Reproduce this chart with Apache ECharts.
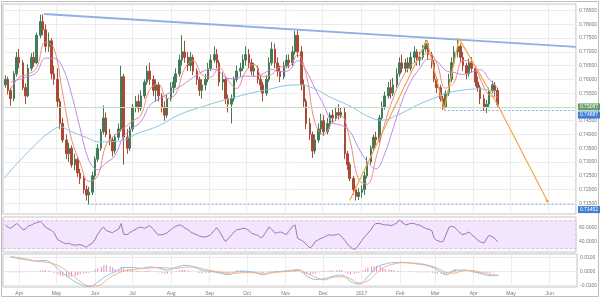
<!DOCTYPE html>
<html><head><meta charset="utf-8">
<script src="https://cdn.jsdelivr.net/npm/echarts@6/dist/echarts.min.js"></script>
<style>html,body{margin:0;padding:0;background:#fff}#c{width:600px;height:299px}</style>
</head><body><div id="c"></div>
<script>
// ---------- DATA ----------
const firstCandle = '2016-03-21';           // candles every Mon / Wed / Fri
const axisStart = '2016-03-19';
const axisEnd = '2017-06-23';
// [open, close, low, high] in 1e-4 units
const candles = [
[7580,7600,7570,7615],[7600,7560,7545,7610],[7560,7530,7505,7570],
[7530,7620,7520,7630],[7620,7680,7610,7700],[7680,7660,7640,7710],
[7660,7570,7560,7670],[7570,7540,7510,7585],[7540,7640,7535,7655],
[7640,7680,7630,7695],[7680,7660,7645,7700],[7660,7760,7655,7770],
[7760,7810,7750,7835],[7810,7780,7760,7836],[7780,7720,7700,7800],
[7720,7740,7700,7770],[7740,7620,7600,7750],[7620,7600,7580,7650],
[7600,7520,7500,7640],[7520,7440,7420,7530],[7440,7380,7370,7460],
[7380,7330,7310,7400],[7330,7350,7300,7370],[7350,7290,7280,7360],
[7290,7310,7270,7330],[7310,7260,7245,7320],[7260,7240,7220,7275],
[7240,7200,7185,7250],[7200,7180,7160,7215],[7180,7190,7145,7210],
[7190,7250,7180,7265],[7250,7310,7240,7320],[7310,7350,7300,7365],
[7350,7410,7340,7420],[7410,7460,7400,7505],[7460,7400,7390,7480],
[7400,7380,7360,7420],[7380,7340,7320,7390],[7340,7390,7330,7400],
[7390,7420,7380,7440],[7420,7610,7410,7650],[7610,7390,7290,7620],
[7390,7350,7330,7420],[7350,7420,7340,7430],[7420,7500,7410,7510],
[7500,7520,7480,7540],[7520,7495,7480,7545],[7495,7540,7485,7560],
[7540,7590,7530,7600],[7590,7630,7580,7650],[7630,7600,7580,7660],
[7600,7560,7540,7615],[7560,7580,7520,7600],[7580,7540,7520,7590],
[7540,7500,7480,7550],[7500,7470,7450,7520],[7470,7530,7460,7545],
[7530,7570,7520,7590],[7570,7590,7550,7610],[7590,7620,7570,7640],
[7620,7670,7610,7690],[7670,7700,7650,7760],[7700,7680,7660,7740],
[7680,7650,7630,7700],[7650,7680,7630,7700],[7680,7630,7615,7690],
[7630,7600,7580,7640],[7600,7560,7540,7610],[7560,7580,7530,7600],
[7580,7600,7560,7620],[7600,7640,7590,7660],[7640,7670,7630,7690],
[7670,7690,7660,7720],[7690,7660,7640,7710],[7660,7590,7575,7670],
[7590,7600,7560,7625],[7600,7530,7510,7610],[7530,7510,7480,7545],
[7510,7530,7440,7545],[7530,7600,7520,7610],[7600,7630,7590,7650],
[7630,7640,7610,7660],[7640,7670,7630,7690],[7670,7690,7650,7720],
[7690,7660,7640,7710],[7660,7630,7615,7675],[7630,7640,7610,7660],
[7640,7600,7585,7650],[7600,7580,7560,7615],[7580,7550,7520,7590],
[7550,7600,7540,7615],[7600,7660,7590,7680],[7660,7710,7650,7735],
[7710,7660,7640,7730],[7660,7630,7610,7680],[7630,7610,7590,7650],
[7610,7650,7600,7665],[7650,7670,7640,7690],[7670,7660,7640,7690],
[7660,7700,7650,7720],[7700,7760,7690,7775],[7760,7700,7680,7778],
[7700,7580,7560,7720],[7580,7520,7500,7600],[7520,7440,7420,7530],
[7440,7400,7380,7460],[7400,7340,7315,7410],[7340,7380,7330,7400],
[7380,7420,7370,7440],[7420,7450,7400,7475],[7450,7410,7395,7470],
[7410,7440,7400,7460],[7440,7470,7420,7480],[7470,7460,7440,7490],
[7460,7480,7450,7500],[7480,7470,7455,7510],[7470,7480,7460,7500],
[7480,7330,7310,7500],[7330,7290,7270,7340],[7290,7240,7230,7300],
[7240,7200,7180,7250],[7200,7175,7160,7210],[7175,7190,7162,7205],
[7190,7200,7170,7215],[7200,7250,7180,7265],[7250,7300,7240,7320],
[7300,7350,7290,7360],[7350,7390,7340,7400],[7390,7380,7360,7410],
[7380,7460,7370,7470],[7460,7500,7450,7520],[7500,7540,7490,7555],
[7540,7570,7530,7590],[7570,7550,7530,7600],[7550,7580,7540,7605],
[7580,7620,7570,7640],[7620,7660,7610,7680],[7660,7640,7625,7690],
[7640,7660,7625,7675],[7660,7640,7625,7680],[7640,7680,7630,7700],
[7680,7700,7660,7720],[7700,7670,7650,7710],[7670,7680,7650,7700],
[7680,7710,7670,7725],[7710,7730,7700,7742],[7730,7690,7670,7740],
[7690,7660,7640,7700],[7660,7600,7590,7670],[7600,7570,7550,7610],
[7570,7530,7520,7580],[7530,7500,7490,7540],[7500,7550,7495,7560],
[7550,7600,7540,7620],[7600,7660,7590,7680],[7660,7700,7650,7720],
[7700,7720,7680,7748],[7720,7680,7660,7730],[7680,7650,7630,7700],
[7650,7620,7600,7660],[7620,7660,7610,7675],[7660,7640,7625,7680],
[7640,7590,7575,7650],[7590,7570,7555,7610],[7570,7530,7510,7580],
[7530,7500,7485,7545],[7500,7510,7478,7525],[7510,7560,7500,7570],
[7560,7580,7550,7595],[7580,7560,7540,7590],[7560,7508,7500,7570]
];
// weekly moving averages (value at each Friday candle), 1e-4 units
const maFast = [7563,7608,7618,7642,7735,7712,7550,7385,7297,7230,7247,7363,7397,7422,7448,7470,7563,7583,7530,7547,7638,7668,7617,7608,7642,7597,7567,7627,7655,7610,7617,7645,7647,7690,7617,7443,7400,7442,7467,7382,7238,7219,7312,7437,7533,7603,7650,7672,7697,7660,7568,7590,7668,7662,7602,7543,7536];
const maMid = [7590,7600,7610,7625,7677,7677,7643,7548,7423,7308,7272,7297,7322,7392,7422,7446,7505,7527,7546,7565,7584,7607,7627,7638,7629,7603,7605,7612,7611,7619,7636,7628,7632,7668,7632,7567,7508,7443,7434,7412,7352,7301,7275,7328,7423,7520,7592,7638,7673,7666,7633,7625,7618,7626,7635,7602,7569];
const maSlowDates = ['2016-03-20','2016-04-02','2016-04-18','2016-04-26','2016-05-04','2016-05-12','2016-05-24','2016-06-05','2016-06-20','2016-07-06','2016-07-22','2016-08-07','2016-08-23','2016-09-19','2016-10-16','2016-11-11','2016-11-23','2016-12-07','2016-12-23','2017-01-08','2017-01-18','2017-01-30','2017-02-25','2017-03-24','2017-04-07','2017-04-20'];
const maSlow = [7242,7307,7380,7409,7427,7412,7391,7373,7376,7405,7431,7470,7496,7532,7561,7580,7569,7536,7503,7463,7452,7470,7525,7561,7565,7550];
// RSI per candle
const rsi = [64,61,59,63,66,63,57,58,62,64,66,67,69,66,61,58,56,53,43,41,39,37,38,36,35,35.5,36,34,32,35,38,43,50,58,61,56,54,53,55,58,66,51,50,53,55,58,60,61,59,61,63,58,53,50,50,51,53,57,60,62,64,63,60,57,54,52,50,48,47,47,48,50,56,60,55,46,40,44,50,54,57,58,59,59,56,52,51,49,46,47,55,61,58,52,53,54,52,50,55,62,64,45,42,40,36,31,34,40,43,45,46,49,50,49,50,51,48,42,37,33,29,30,35,42,47,51,57,63,66,66,65,64,64,63,64,67,71,68,64,65,66,66,64,64,61,59,58,56,45,42,40,40,48,61,62,61,56,52,50,52,54,50,46,42,40,38,44,49,47,44,40];
// MACD weekly (1e-4 units)
const macdLine = [105,93,84,76,80,45,-10,-55,-90,-107,-75,-30,0,30,30,24,34,25,12,30,46,34,10,2,-10,-22,0,2,-5,-22,-4,2,8,15,-30,-55,-50,-32,-24,-68,-88,-36,30,55,65,66,60,52,40,12,-22,10,12,2,-15,-28,-26];
const signalLine = [110,98,88,75,68,55,25,-20,-70,-100,-100,-60,-20,5,15,22,26,30,27,25,32,34,22,8,-2,-10,-10,-6,-8,-11,-8,-2,3,10,-10,-40,-58,-40,-36,-50,-80,-65,-10,35,55,64,62,58,45,25,-5,-10,8,8,-5,-18,-26];
// MACD histogram per candle (1e-4 units)
const macdHist = [-3,-5,-6,-6,-4,-5,-4,-3,-4,0,1,2,6,10,12,8,-2,-10,-18,-28,-35,-36,-38,-35,-30,-25,-20,-15,-10,-7,5,15,25,35,45,48,40,30,20,20,30,25,18,15,15,8,5,3,5,8,8,3,-2,-5,-10,-14,-15,-8,0,5,10,14,14,8,2,0,-6,-10,-12,-10,-8,-6,-4,-6,-8,-10,-12,-12,-6,5,10,10,10,8,4,2,3,-3,-8,-11,-5,4,4,6,5,4,3,5,5,5,8,5,-10,-20,-20,-18,-15,-15,-5,5,8,8,8,8,10,12,12,-5,-15,-18,-15,-10,-8,5,20,29,35,40,40,38,30,20,15,12,10,6,4,2,0,-2,-2,-4,-5,-6,-6,-5,-5,-8,-12,-13,-15,-17,-17,-5,10,20,12,6,4,-2,-4,-6,-8,-10,-10,-10,-8,-10,-5,-3,0];
// annotations
const trendDates = ['2016-04-21', axisEnd];
const trendValues = [0.7837, 0.7718];
const zigDates = ['2016-12-23','2017-02-23','2017-03-09','2017-03-21','2017-04-21','2017-05-31'];
const zigValues = [0.7160,0.7743,0.7490,0.7748,0.7508,0.7158];
const lastPrice = 0.75087;
const supportA = {from:'2017-03-09', value:0.74887};
const supportB = {from:'2016-05-26', value:0.71452};
const priceTicks = [0.715,0.72,0.725,0.73,0.735,0.74,0.745,0.75,0.755,0.76,0.765,0.77,0.775,0.78,0.785];
const monthDates = ['2016-04-01','2016-05-01','2016-06-01','2016-07-01','2016-08-01','2016-09-01','2016-10-01','2016-11-01','2016-12-01','2017-01-01','2017-02-01','2017-03-01','2017-04-01','2017-05-01','2017-06-01'];
const monthLabels = ['Apr','May','Jun','Jul','Aug','Sep','Oct','Nov','Dec','2017','Feb','Mar','Apr','May','Jun'];

// ---------- BUILD ----------
const DAY = 86400000;
const ts = s => { const p = s.split('-').map(Number); return Date.UTC(p[0], p[1]-1, p[2]); };
const P = v => v / 10000;
const t0 = ts(firstCandle);
const dayOff = [0,2,4];
const candleTs = candles.map((c,i) => t0 + (Math.floor(i/3)*7 + dayOff[i%3]) * DAY);
const friTs = maFast.map((v,w) => candleTs[w*3+2]);
const monthTs = monthDates.map(ts);
const X_MIN = ts(axisStart), X_MAX = ts(axisEnd);

const font = 'Arial, Liberation Sans, sans-serif';
const gridStyle = {show:true, borderColor:'#c4c4c4', borderWidth:1, backgroundColor:'rgba(0,0,0,0)'};
const grids = [
  Object.assign({left:3, right:19, top:4, height:210}, gridStyle),
  Object.assign({left:3, right:19, top:217, height:35}, gridStyle),
  Object.assign({left:3, right:19, top:254, height:33}, gridStyle)
];
const xAxisFor = gi => ({
  type:'value', gridIndex:gi, min:X_MIN, max:X_MAX, scale:true,
  axisLine:{show:false},
  axisTick:{show:false, customValues:monthTs},
  axisLabel:{show: gi===2, customValues:monthTs, fontSize:5, color:'#777', fontFamily:font, margin:4,
    formatter: v => { let best = 0; monthTs.forEach((m,i) => { if (Math.abs(m - v) < Math.abs(monthTs[best] - v)) best = i; }); return monthLabels[best]; }},
  splitLine:{show:true, lineStyle:{color:'#ececec', width:1}}
});
const yLabel = {fontSize:5, color:'#777', fontFamily:font, margin:3};
const yAxes = [
  {type:'value', gridIndex:0, position:'right', min:0.71111, max:0.78737,
   axisLine:{show:false}, axisTick:{show:false, customValues:priceTicks},
   axisLabel:Object.assign({customValues:priceTicks, formatter: v => v.toFixed(5)}, yLabel),
   splitLine:{show:true, lineStyle:{color:'#ececec'}}},
  {type:'value', gridIndex:1, position:'right', min:25.3, max:75.3,
   axisLine:{show:false}, axisTick:{show:false, customValues:[40,60]},
   axisLabel:Object.assign({customValues:[40,60], formatter: v => v.toFixed(4)}, yLabel),
   splitLine:{show:true, lineStyle:{color:'#e4d6ee'}}},
  {type:'value', gridIndex:2, position:'right', min:-0.0109, max:0.0126,
   axisLine:{show:false}, axisTick:{show:false, customValues:[-0.01,0,0.01]},
   axisLabel:Object.assign({customValues:[-0.01,0,0.01], formatter: v => v.toFixed(4)}, yLabel),
   splitLine:{show:true, lineStyle:{color:'#ececec'}}}
];
const tag = (txt, bg, off) => ({show:true, position:'end', formatter:txt, backgroundColor:bg, color:'#fff',
  fontSize:5, fontFamily:font, padding:[1,2,1,2], distance:2, offset:[0, off||0]});
const dashBlue = {color:'#8fb4e8', type:[2,2], width:1};

const option = {
  animation:false,
  grid: grids,
  xAxis: [xAxisFor(0), xAxisFor(1), xAxisFor(2)],
  yAxis: yAxes,
  graphic: [{type:'rect', shape:{x:1.5, y:1.5, width:597, height:295}, style:{fill:'none', stroke:'#bdbdbd', lineWidth:1}, silent:true}],
  series: [
    {type:'candlestick', xAxisIndex:0, yAxisIndex:0, barWidth:2, z:3,
     data: candles.map((c,i) => [candleTs[i], P(c[0]), P(c[1]), P(c[2]), P(c[3])]),
     itemStyle:{color:'#437a57', color0:'#a94a36', borderColor:'#437a57', borderColor0:'#a94a36', borderWidth:1},
     markLine:{silent:true, symbol:['none','none'], animation:false,
       data:[
         {yAxis:lastPrice, lineStyle:{color:'#c2dcc2', type:'solid', width:1}, label:tag(lastPrice.toFixed(5), '#64a06e')},
         [{coord:[ts(supportA.from), supportA.value], lineStyle:dashBlue, label:tag(supportA.value.toFixed(5), '#3f7fd6', 5)},
          {coord:[X_MAX, supportA.value]}],
         [{coord:[ts(supportB.from), supportB.value], lineStyle:dashBlue, label:tag(supportB.value.toFixed(5), '#3f7fd6', 5)},
          {coord:[X_MAX, supportB.value]}]
       ]}},
    {type:'line', xAxisIndex:0, yAxisIndex:0, symbol:'none', z:4, smooth:0.4,
     data: maFast.map((v,i) => [friTs[i], P(v)]), lineStyle:{color:'#ee8a80', width:1}},
    {type:'line', xAxisIndex:0, yAxisIndex:0, symbol:'none', z:4, smooth:0.4,
     data: maMid.map((v,i) => [friTs[i], P(v)]), lineStyle:{color:'#c08ae0', width:1}},
    {type:'line', xAxisIndex:0, yAxisIndex:0, symbol:'none', z:4, smooth:0.5,
     data: maSlow.map((v,i) => [ts(maSlowDates[i]), P(v)]), lineStyle:{color:'#86c4e4', width:1}},
    {type:'line', xAxisIndex:0, yAxisIndex:0, symbol:'none', z:5,
     data: trendValues.map((v,i) => [ts(trendDates[i]), v]), lineStyle:{color:'#8fb0e3', width:2}},
    {type:'line', xAxisIndex:0, yAxisIndex:0, z:6, symbol:'none',
     data: zigValues.map((v,i) => i === zigValues.length-1
        ? {value:[ts(zigDates[i]), v], symbol:'circle', symbolSize:3, itemStyle:{color:'#f4a64a'}}
        : [ts(zigDates[i]), v]),
     lineStyle:{color:'#f4a64a', width:1.2}},
    {type:'line', xAxisIndex:1, yAxisIndex:1, symbol:'none', z:4,
     data: rsi.map((v,i) => [candleTs[i], v]), lineStyle:{color:'#a072c0', width:1},
     markArea:{silent:true, itemStyle:{color:'#f3e6fc', borderColor:'#d1b0e8', borderWidth:0.8, borderType:'dashed'},
       data:[[{yAxis:30},{yAxis:70}]]}},
    {type:'bar', xAxisIndex:2, yAxisIndex:2, barWidth:1, z:3,
     data: macdHist.map((v,i) => [candleTs[i], P(v)]), itemStyle:{color:'#e58bbd'}},
    {type:'line', xAxisIndex:2, yAxisIndex:2, symbol:'none', z:4, smooth:0.4,
     data: macdLine.map((v,i) => [friTs[i], P(v)]), lineStyle:{color:'#86c2ec', width:1}},
    {type:'line', xAxisIndex:2, yAxisIndex:2, symbol:'none', z:4, smooth:0.4,
     data: signalLine.map((v,i) => [friTs[i], P(v)]), lineStyle:{color:'#f5b07c', width:1}}
  ]
};
const chart = echarts.init(document.getElementById('c'), null, {renderer:'canvas'});
chart.setOption(option);
</script>
</body></html>
